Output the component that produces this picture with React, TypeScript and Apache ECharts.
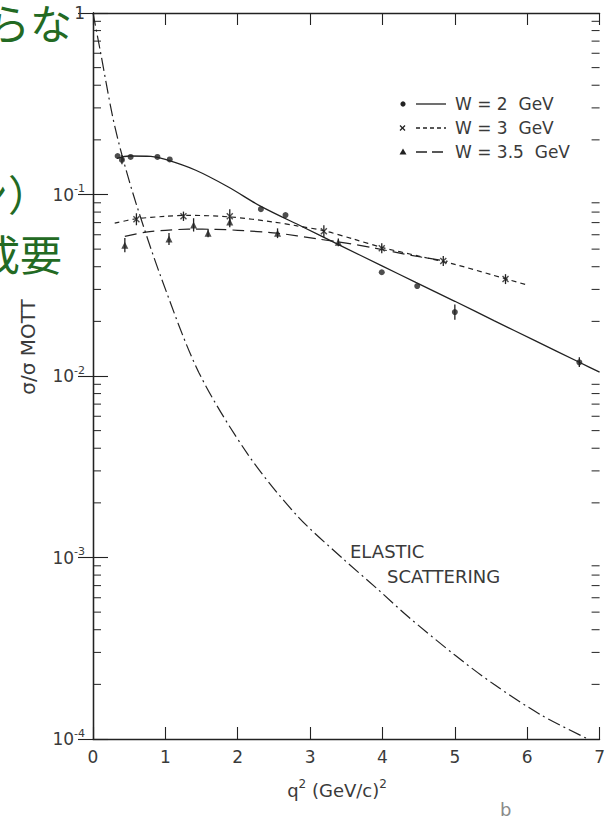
import { useEffect, useRef } from "react";
import * as echarts from "echarts";

// Inelastic e-p cross sections, sigma / sigma_Mott vs q^2 (GeV/c)^2
const W2_Q2 = [0.34, 0.40, 0.52, 0.89, 1.06, 2.32, 2.66, 3.99, 4.48, 5.00, 6.72];
const W2_VAL = [0.163, 0.155, 0.161, 0.161, 0.156, 0.083, 0.077, 0.0373, 0.0313, 0.0225, 0.0119];
const W2_ERR_Q2 = [0.40, 5.00, 6.72];
const W2_ERR_LO = [0.147, 0.0204, 0.0112];
const W2_ERR_HI = [0.165, 0.0248, 0.0127];

const W3_Q2 = [0.60, 1.25, 1.89, 3.19, 3.99, 4.84, 5.70];
const W3_VAL = [0.073, 0.0759, 0.0759, 0.0628, 0.0506, 0.043, 0.0342];
const W3_LO = [0.0677, 0.0715, 0.0695, 0.0582, 0.0475, 0.0404, 0.0321];
const W3_HI = [0.0788, 0.0805, 0.083, 0.0678, 0.0539, 0.0458, 0.0364];

const W35_Q2 = [0.44, 1.05, 1.39, 1.59, 1.89, 2.55, 3.39];
const W35_VAL = [0.0526, 0.0569, 0.068, 0.0612, 0.0705, 0.0612, 0.0545];
const W35_LO = [0.0481, 0.0527, 0.0625, 0.0582, 0.066, 0.0575, 0.0518];
const W35_HI = [0.0575, 0.0614, 0.074, 0.0644, 0.0745, 0.0651, 0.0573];

// Fitted curves
const FIT2_Q2 = [0.33, 0.5, 0.8, 1.0, 1.42, 1.87, 2.32, 2.9, 3.4, 4.0, 4.46, 5.0, 5.54, 6.1, 6.72, 7.0];
const FIT2_VAL = [0.158, 0.163, 0.162, 0.156, 0.136, 0.11, 0.086, 0.0662, 0.0528, 0.0403, 0.0328, 0.0258, 0.0202, 0.0157, 0.0119, 0.0105];

const FIT3_Q2 = [0.3, 0.6, 1.0, 1.3, 1.9, 2.5, 2.82, 3.2, 3.6, 4.0, 4.5, 5.0, 5.5, 6.0];
const FIT3_VAL = [0.0695, 0.0735, 0.0758, 0.0768, 0.0752, 0.0705, 0.0672, 0.063, 0.0568, 0.051, 0.0458, 0.0412, 0.0362, 0.0317];

const FIT35_Q2 = [0.44, 0.73, 1.0, 1.32, 1.7, 2.0, 2.55, 3.09, 3.5, 3.91, 4.4, 4.9];
const FIT35_VAL = [0.0588, 0.062, 0.0635, 0.0644, 0.0643, 0.0635, 0.0612, 0.057, 0.054, 0.0505, 0.0462, 0.0428];

// Elastic scattering
const EL_Q2 = [0, 0.1, 0.27, 0.4, 0.6, 0.94, 1.46, 2.14, 2.82, 3.46, 3.95, 4.36, 5.0, 5.54, 6.2, 6.84];
const EL_VAL = [1.0, 0.62, 0.27, 0.165, 0.088, 0.035, 0.0105, 0.0037, 0.0017, 0.00098, 0.00066, 0.00047, 0.00029, 0.0002, 0.000135, 0.0001];

const DECADES = [1e-4, 1e-3, 1e-2, 1e-1];
const MINOR_STEPS = [2, 3, 4, 5, 6, 7, 8, 9];

const LEGEND = ["W = 2  GeV", "W = 3  GeV", "W = 3.5  GeV"];

const FONT = "DejaVu Sans";
const INK = "#222";
const TEXT = "#3a3a3a";
const GREEN = "#236a23";

const zip = (a: number[], b: number[]) => a.map((v, i) => [v, b[i]]);
const zip3 = (a: number[], b: number[], c: number[]) => a.map((v, i) => [v, b[i], c[i]]);

export default function App() {
  const ref = useRef<HTMLDivElement>(null);

  useEffect(() => {
    const chart = echarts.init(ref.current!, undefined, { renderer: "svg" });

    const minorTicks: number[][] = [];
    DECADES.forEach((d) => MINOR_STEPS.forEach((m) => minorTicks.push([0, d * m])));

    const errorBars = [
      ...zip3(W2_ERR_Q2, W2_ERR_LO, W2_ERR_HI),
      ...zip3(W3_Q2, W3_LO, W3_HI),
      ...zip3(W35_Q2, W35_LO, W35_HI),
    ];

    const axisLine = { lineStyle: { color: INK, width: 1.3 } };

    const legendY = [104, 128, 152];
    const legendGraphics: any[] = [];
    legendY.forEach((y, i) => {
      let marker: any;
      if (i === 0) marker = { type: "circle", shape: { cx: 403, cy: y, r: 2.6 }, style: { fill: INK } };
      else if (i === 1)
        marker = {
          type: "group",
          children: [
            { type: "line", shape: { x1: 400, y1: y - 2.5, x2: 405, y2: y + 2.5 }, style: { stroke: INK, lineWidth: 1.2 } },
            { type: "line", shape: { x1: 405, y1: y - 2.5, x2: 400, y2: y + 2.5 }, style: { stroke: INK, lineWidth: 1.2 } },
          ],
        };
      else marker = { type: "polygon", shape: { points: [[403, y - 3.5], [399.5, y + 2.5], [406.5, y + 2.5]] }, style: { fill: INK } };
      legendGraphics.push(marker);
      const dash = i === 0 ? undefined : i === 1 ? [4, 3] : [11, 5];
      legendGraphics.push({
        type: "line",
        shape: { x1: 416, y1: y, x2: 446, y2: y },
        style: { stroke: INK, lineWidth: 1.3, lineDash: dash },
      });
      legendGraphics.push({
        type: "text",
        x: 455,
        y,
        style: { text: LEGEND[i], font: `17px "${FONT}"`, fill: TEXT, verticalAlign: "middle", align: "left" },
      });
    });

    const curve = (name: string, xs: number[], ys: number[], type: any, width = 1.2) => ({
      type: "line",
      name,
      data: zip(xs, ys),
      showSymbol: false,
      smooth: 0.3,
      lineStyle: { color: INK, width, type },
    });

    const option: any = {
      animation: false,
      backgroundColor: "#fff",
      grid: { left: 93, top: 13, width: 514, height: 726, containLabel: false },
      xAxis: [
        {
          type: "value",
          min: 0,
          max: 7,
          interval: 1,
          position: "bottom",
          axisLine,
          axisTick: { inside: true, length: 12, lineStyle: { color: INK, width: 1.1 } },
          axisLabel: { margin: 9, fontSize: 17, color: TEXT, fontFamily: FONT },
          splitLine: { show: false },
        },
        {
          type: "value",
          min: 0,
          max: 7,
          interval: 1,
          position: "top",
          axisLine,
          axisTick: { inside: true, length: 12, lineStyle: { color: INK, width: 1.1 } },
          axisLabel: { show: false },
          splitLine: { show: false },
        },
      ],
      yAxis: [
        {
          type: "log",
          logBase: 10,
          min: 1e-4,
          max: 1,
          position: "left",
          axisLine,
          axisTick: { inside: true, length: 15, lineStyle: { color: INK, width: 1.1 } },
          splitLine: { show: false },
          axisLabel: {
            margin: 8,
            formatter: (v: number) => {
              const p = Math.round(Math.log10(v));
              return p === 0 ? "{n|1}" : `{n|10}{s|${p}}`;
            },
            rich: {
              n: { fontSize: 17, color: TEXT, fontFamily: FONT },
              s: { fontSize: 11, color: TEXT, fontFamily: FONT, padding: [0, 0, 12, 0] },
            },
          },
        },
        {
          type: "log",
          logBase: 10,
          min: 1e-4,
          max: 1,
          position: "right",
          axisLine,
          axisTick: { inside: true, length: 15, lineStyle: { color: INK, width: 1.1 } },
          axisLabel: { show: false },
          splitLine: { show: false },
        },
      ],
      series: [
        {
          type: "custom",
          name: "minor ticks",
          data: minorTicks,
          silent: true,
          renderItem: (params: any, api: any) => {
            const cs = params.coordSys;
            const y = api.coord([0, api.value(1)])[1];
            const st = { stroke: INK, lineWidth: 1 };
            return {
              type: "group",
              children: [
                { type: "line", shape: { x1: cs.x, y1: y, x2: cs.x + 8, y2: y }, style: st },
                { type: "line", shape: { x1: cs.x + cs.width - 8, y1: y, x2: cs.x + cs.width, y2: y }, style: st },
              ],
            };
          },
        },
        curve("elastic", EL_Q2, EL_VAL, [13, 4, 2, 4]),
        curve("W = 2 GeV fit", FIT2_Q2, FIT2_VAL, "solid", 1.3),
        curve("W = 3 GeV fit", FIT3_Q2, FIT3_VAL, [5, 4]),
        curve("W = 3.5 GeV fit", FIT35_Q2, FIT35_VAL, [12, 6]),
        {
          type: "custom",
          name: "errors",
          data: errorBars,
          encode: { x: 0, y: [1, 2] },
          renderItem: (_p: any, api: any) => {
            const a = api.coord([api.value(0), api.value(1)]);
            const b = api.coord([api.value(0), api.value(2)]);
            return {
              type: "line",
              shape: { x1: a[0], y1: a[1], x2: b[0], y2: b[1] },
              style: { stroke: INK, lineWidth: 1.3 },
            };
          },
        },
        {
          type: "scatter",
          name: "W = 2 GeV",
          data: zip(W2_Q2, W2_VAL),
          symbol: "circle",
          symbolSize: 6,
          itemStyle: { color: INK },
        },
        {
          type: "scatter",
          name: "W = 3 GeV",
          data: zip(W3_Q2, W3_VAL),
          symbol: "path://M0 0L10 10M10 0L0 10",
          symbolSize: 6,
          itemStyle: { color: "rgba(0,0,0,0)", borderColor: INK, borderWidth: 1.4 },
        },
        {
          type: "scatter",
          name: "W = 3.5 GeV",
          data: zip(W35_Q2, W35_VAL),
          symbol: "triangle",
          symbolSize: 7,
          itemStyle: { color: INK },
        },
      ],
      graphic: [
        ...legendGraphics,
        {
          type: "text",
          x: 350,
          y: 551,
          style: { text: "ELASTIC", font: `18px "${FONT}"`, fill: TEXT, verticalAlign: "middle" },
        },
        {
          type: "text",
          x: 387,
          y: 576,
          style: { text: "SCATTERING", font: `18px "${FONT}"`, fill: TEXT, verticalAlign: "middle" },
        },
        {
          type: "text",
          x: 28,
          y: 347,
          rotation: Math.PI / 2,
          style: {
            text: "σ/σ MOTT",
            font: `20px "${FONT}"`,
            fill: TEXT,
            align: "center",
            verticalAlign: "middle",
          },
        },
        {
          type: "text",
          x: 337,
          y: 790,
          style: {
            text: "{n|q}{s|2}{n| (GeV/c)}{s|2}",
            align: "center",
            verticalAlign: "middle",
            rich: {
              n: { font: `18px "${FONT}"`, fill: TEXT },
              s: { font: `12px "${FONT}"`, fill: TEXT, padding: [0, 0, 13, 0] },
            },
          },
        },
        {
          type: "text",
          x: 500,
          y: 809,
          style: { text: "b", font: `18px "${FONT}"`, fill: "#8a8a8a", verticalAlign: "middle" },
        },
        {
          type: "text",
          x: -12,
          y: 21,
          style: { text: "らな", font: `42px "Noto Sans CJK JP"`, fill: GREEN, verticalAlign: "middle" },
        },
        {
          type: "text",
          x: -34,
          y: 192,
          style: { text: "ン）", font: `42px "Noto Sans CJK JP"`, fill: GREEN, verticalAlign: "middle" },
        },
        {
          type: "text",
          x: -22,
          y: 252,
          style: { text: "成要", font: `42px "Noto Sans CJK JP"`, fill: GREEN, verticalAlign: "middle" },
        },
      ],
    };

    chart.setOption(option);
    return () => chart.dispose();
  }, []);

  return (
    <div
      ref={ref}
      style={{ position: "fixed", left: 0, top: 0, width: 608, height: 821, background: "#fff" }}
    />
  );
}
